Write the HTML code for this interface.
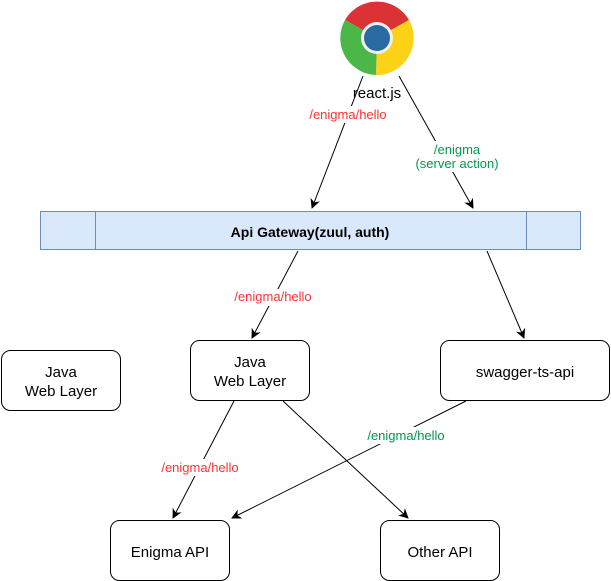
<!DOCTYPE html>
<html><head><meta charset="utf-8"><style>
html,body{margin:0;padding:0;background:#fff;}
svg{display:block;font-family:"Liberation Sans",sans-serif;}
</style></head><body>
<svg width="611" height="581" viewBox="0 0 611 581" xmlns="http://www.w3.org/2000/svg">
<defs>
<marker id="a" markerWidth="10" markerHeight="10" refX="9" refY="5" orient="auto" markerUnits="userSpaceOnUse">
<path d="M0,0 L10,5 L0,10 L3,5 Z" fill="#000"/>
</marker>
</defs>
<g transform="translate(377,38)">
<path d="M0,0 L-32,-18 A37,37 0 0 1 32,-18 Z" fill="#db3236"/>
<path d="M0,0 L32,-18 A37,37 0 0 1 -1,37 Z" fill="#fcd116"/>
<path d="M0,0 L-1,37 A37,37 0 0 1 -32,-18 Z" fill="#4cb749"/>
<circle r="16" fill="#f1f1f1"/>
<circle r="13" fill="#2a6aa3"/>
</g>
<text x="377" y="98" font-size="15" text-anchor="middle">react.js</text>
<rect x="40.5" y="211.5" width="540" height="38" fill="#dae8fc" stroke="#6c8ebf"/>
<line x1="95.5" y1="211.5" x2="95.5" y2="249.5" stroke="#6c8ebf"/>
<line x1="526.5" y1="211.5" x2="526.5" y2="249.5" stroke="#6c8ebf"/>
<text x="310" y="237" font-size="14" font-weight="bold" text-anchor="middle">Api Gateway(zuul, auth)</text>
<g stroke="#000" fill="none" stroke-width="1">
<line x1="363" y1="76" x2="312" y2="208" marker-end="url(#a)"/>
<line x1="399" y1="76" x2="473" y2="208" marker-end="url(#a)"/>
<line x1="298" y1="251" x2="252" y2="338" marker-end="url(#a)"/>
<line x1="487" y1="251" x2="524" y2="338" marker-end="url(#a)"/>
<line x1="234" y1="401" x2="173" y2="518" marker-end="url(#a)"/>
<line x1="283" y1="401" x2="408" y2="518" marker-end="url(#a)"/>
<line x1="466" y1="401" x2="232" y2="518" marker-end="url(#a)"/>
</g>
<g font-size="13" text-anchor="middle">
<rect x="304" y="106" width="90" height="17" fill="#fff"/>
<text x="348" y="119" fill="#ff3333">/enigma/hello</text>
<rect x="406" y="141" width="102" height="31" fill="#fff"/>
<text x="457" y="154" fill="#00994d">/enigma</text>
<text x="457" y="168" fill="#00994d">(server action)</text>
<rect x="228" y="289" width="90" height="17" fill="#fff"/>
<text x="273" y="301" fill="#ff3333">/enigma/hello</text>
<rect x="155" y="459" width="90" height="17" fill="#fff"/>
<text x="200" y="472" fill="#ff3333">/enigma/hello</text>
<rect x="361" y="427" width="90" height="17" fill="#fff"/>
<text x="406" y="440" fill="#00994d">/enigma/hello</text>
</g>
<g fill="#fff" stroke="#000">
<rect x="1.5" y="350.5" width="119" height="60" rx="9"/>
<rect x="190.5" y="340.5" width="119" height="60" rx="9"/>
<rect x="440.5" y="340.5" width="169" height="60" rx="9"/>
<rect x="110.5" y="520.5" width="119" height="60" rx="9"/>
<rect x="380.5" y="520.5" width="119" height="60" rx="9"/>
</g>
<g font-size="15" text-anchor="middle">
<text x="61" y="377">Java</text><text x="61" y="396">Web Layer</text>
<text x="250" y="367">Java</text><text x="250" y="386">Web Layer</text>
<text x="525" y="377">swagger-ts-api</text>
<text x="170" y="557">Enigma API</text>
<text x="440" y="557">Other API</text>
</g>
</svg>
</body></html>
